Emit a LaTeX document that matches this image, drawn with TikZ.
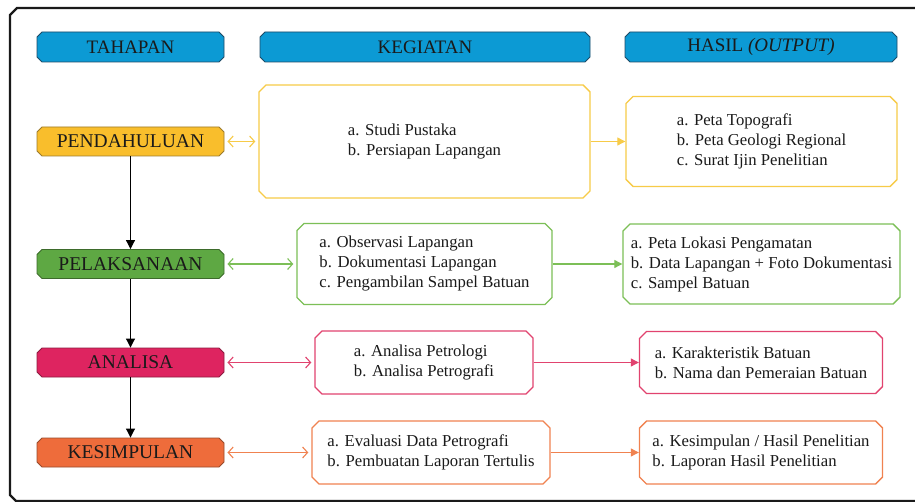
\documentclass[tikz,border=0pt]{standalone}
\usepackage{fontspec}
\setmainfont{Liberation Serif}
\usetikzlibrary{shapes.misc,arrows.meta}
\definecolor{hdrfill}{HTML}{0C9AD4}
\definecolor{hdrline}{HTML}{1D4A66}
\definecolor{txt}{HTML}{1A1A1A}
\definecolor{yfill}{HTML}{F9BE2C}
\definecolor{yedge}{HTML}{9C7A2A}
\definecolor{yline}{HTML}{F7CB48}
\definecolor{gfill}{HTML}{5EA843}
\definecolor{gedge}{HTML}{3D6B2B}
\definecolor{gline}{HTML}{7CBF57}
\definecolor{pfill}{HTML}{DE2460}
\definecolor{pedge}{HTML}{8C1C40}
\definecolor{pline}{HTML}{E1436F}
\definecolor{ofill}{HTML}{EE6C3B}
\definecolor{oedge}{HTML}{984A2B}
\definecolor{oline}{HTML}{F08250}
\tikzset{
  chbox/.style={chamfered rectangle, chamfered rectangle xsep=#1, chamfered rectangle ysep=#1, inner sep=0pt, text=txt},
  hdrbox/.style={chbox=2.5pt, draw=hdrline, fill=hdrfill, line width=0.9pt, minimum height=30pt, font=\fontsize{19}{22}\selectfont},
  stagebox/.style={chbox=2.5pt, line width=0.9pt, minimum width=187pt, minimum height=29pt, font=\fontsize{19.5}{22}\selectfont},
  infobox/.style={chbox=3.5pt, line width=1.4pt, fill=white, align=left, font=\fontsize{16.7}{20}\selectfont},
  dbl/.style={line width=1.1pt, {Straight Barb[length=5pt,width=11pt]}-{Straight Barb[length=5pt,width=11pt]}, shorten <=3pt, shorten >=3pt},
  fwd/.style={line width=1.1pt, -{Triangle[length=8pt,width=8pt]}},
  down/.style={line width=1pt, draw=black, -{Triangle[length=9pt,width=9pt]}}
}
\begin{document}
\begin{tikzpicture}[x=1pt,y=-1pt]
\useasboundingbox (0,0) rectangle (915,502);
\fill[white] (0,0) rectangle (915,502);
% outer frame
\draw[line width=2.2pt, color=txt] (915,8) -- (17,8) -- (10,15) -- (10,495) -- (16,501) -- (915,501);

% headers
\node[hdrbox, minimum width=187pt] (h1) at (130.5,47) {TAHAPAN};
\node[hdrbox, minimum width=330pt] (h2) at (425,47) {KEGIATAN};
\node[hdrbox, minimum width=272pt] (h3) at (761,47) {HASIL \textit{(OUTPUT)}};

% stages
\node[stagebox, draw=yedge, fill=yfill] (s1) at (130.5,141.5) {PENDAHULUAN};
\node[stagebox, draw=gedge, fill=gfill] (s2) at (130.5,264) {PELAKSANAAN};
\node[stagebox, draw=pedge, fill=pfill] (s3) at (130.5,362.5) {ANALISA};
\node[stagebox, draw=oedge, fill=ofill] (s4) at (130.5,452.5) {KESIMPULAN};

% kegiatan
\node[infobox, draw=yline, minimum width=331pt, minimum height=113pt] (k1) at (424.5,141.5)
  {a. Studi Pustaka\\b. Persiapan Lapangan};
\node[infobox, draw=gline, minimum width=255pt, minimum height=81pt] (k2) at (424.5,264)
  {a. Observasi Lapangan\\b. Dokumentasi Lapangan\\c. Pengambilan Sampel Batuan};
\node[infobox, draw=pline, minimum width=218pt, minimum height=63pt] (k3) at (424,362.5)
  {a. Analisa Petrologi\\b. Analisa Petrografi};
\node[infobox, draw=oline, minimum width=238pt, minimum height=63pt] (k4) at (431,452.5)
  {a. Evaluasi Data Petrografi\\b. Pembuatan Laporan Tertulis};

% hasil
\node[infobox, draw=yline, minimum width=271pt, minimum height=90pt] (o1) at (761.5,141.5)
  {a. Peta Topografi\\b. Peta Geologi Regional\\c. Surat Ijin Penelitian};
\node[infobox, draw=gline, minimum width=277pt, minimum height=80pt] (o2) at (761.5,264)
  {a. Peta Lokasi Pengamatan\\b. Data Lapangan + Foto Dokumentasi\\c. Sampel Batuan};
\node[infobox, draw=pline, minimum width=243pt, minimum height=62pt] (o3) at (761,362.5)
  {a. Karakteristik Batuan\\b. Nama dan Pemeraian Batuan};
\node[infobox, draw=oline, minimum width=243pt, minimum height=63pt] (o4) at (761,452.5)
  {a. Kesimpulan / Hasil Penelitian\\b. Laporan Hasil Penelitian};

% vertical arrows
\draw[down] (s1.south) -- (s2.north);
\draw[down] (s2.south) -- (s3.north);
\draw[down] (s3.south) -- (s4.north);

% double arrows
\draw[dbl, yline] (s1.east) -- (k1.west);
\draw[dbl, gline] (s2.east) -- (k2.west);
\draw[dbl, pline] (s3.east) -- (k3.west);
\draw[dbl, oline] (s4.east) -- (k4.west);

% forward arrows
\draw[fwd, yline] (k1.east) -- (o1.west);
\draw[fwd, gline] (k2.east) -- (o2.west);
\draw[fwd, pline] (k3.east) -- (o3.west);
\draw[fwd, oline] (k4.east) -- (o4.west);
\end{tikzpicture}
\end{document}
